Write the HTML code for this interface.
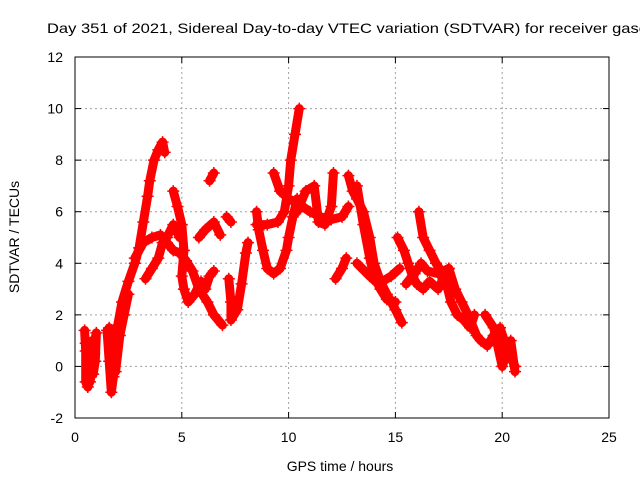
<!DOCTYPE html>
<html><head><meta charset="utf-8"><style>
body{margin:0;background:#fff;overflow:hidden}
svg{display:block;font-family:"Liberation Sans",sans-serif}
</style></head><body>
<svg id="chart" width="640" height="480" viewBox="0 0 640 480">
<rect width="640" height="480" fill="#fff"/>
<text x="47" y="33" font-size="14" textLength="600" lengthAdjust="spacingAndGlyphs" fill="#000">Day 351 of 2021, Sidereal Day-to-day VTEC variation (SDTVAR) for receiver gasc</text>
<g id="grid"></g><g id="axes"></g><g id="marks"></g>
<text x="340" y="471" font-size="14" text-anchor="middle">GPS time / hours</text>
<text transform="translate(19,237) rotate(-90)" font-size="14" text-anchor="middle">SDTVAR / TECUs</text>
</svg>
<script>
const xTicks=[0,5,10,15,20,25];
const yTicks=[-2,0,2,4,6,8,10,12];
const trackA=[[0.45,1.4],[0.5,0.6],[0.5,-0.6],[0.6,-0.8],[0.75,-0.4],[0.8,0.3],[0.9,0.9],[1.0,1.3],[0.95,0.2],[0.85,-0.3]];
const trackA2=[[0.5,0.9],[0.65,0.2],[0.7,-0.6],[0.9,0.5],[0.8,1.0]];
const trackB=[[1.5,1.4],[1.6,0.2],[1.7,-1.0],[1.8,-0.4],[1.9,0.6],[2.0,1.6],[2.2,2.5],[2.5,3.3],[2.8,4.0],[3.0,4.6],[3.2,5.6],[3.4,6.6],[3.5,7.2],[3.7,8.0],[3.9,8.4],[4.1,8.7],[4.2,8.3]];
const trackB2=[[1.6,1.5],[1.8,0.8],[1.9,-0.2],[2.1,1.2],[2.3,2.0],[2.5,2.8]];
const trackC=[[2.8,4.2],[3.2,4.8],[3.6,5.0],[4.0,5.1],[4.3,4.8],[4.6,4.5],[4.9,4.4],[5.2,4.1],[5.5,3.7],[5.8,3.0],[6.2,2.5],[6.5,2.0],[6.9,1.6]];
const trackD=[[3.3,3.4],[3.6,3.8],[3.9,4.2],[4.1,4.8],[4.3,5.0],[4.6,5.5],[4.9,5.0]];
const trackE=[[4.6,6.8],[4.8,6.2],[5.0,5.5],[5.1,4.5],[5.0,3.5],[5.1,3.0],[5.3,2.5],[5.6,2.8],[5.9,3.3],[6.1,3.0],[6.3,3.5],[6.5,3.7]];
const trackF=[[5.8,5.0],[6.1,5.3],[6.5,5.6],[6.8,5.1]];
const trackG=[[6.3,7.2],[6.5,7.5]];
const trackH=[[7.1,5.8],[7.3,5.6]];
const trackI=[[7.2,3.4],[7.3,2.5],[7.3,1.8],[7.6,2.2],[7.8,3.2],[8.0,4.4],[8.1,4.8]];
const trackJ=[[8.5,6.0],[8.6,5.3],[8.8,4.5],[9.0,3.8],[9.3,3.6],[9.6,3.8],[9.9,4.5],[10.0,5.0],[10.2,5.8],[10.4,6.5]];
const trackK=[[8.5,5.5],[9.0,5.5],[9.5,5.6],[9.8,6.0],[10.0,7.0],[10.1,8.0],[10.3,9.0],[10.5,10.0]];
const trackL=[[9.3,7.5],[9.6,6.8],[10.0,6.5],[10.5,6.3],[11.0,6.0],[11.5,5.8],[12.0,5.7],[12.5,5.8],[12.8,6.2]];
const trackM=[[10.4,6.0],[10.8,6.8],[11.2,7.0],[11.4,5.6],[11.7,5.5],[12.0,6.2],[12.1,7.5]];
const trackN=[[12.2,3.4],[12.5,3.8],[12.7,4.2]];
const trackO=[[12.8,7.4],[13.0,6.8],[13.2,6.5],[13.5,6.0],[13.8,5.0],[14.0,4.0],[14.3,3.3],[14.6,2.8],[15.0,2.2],[15.3,1.7]];
const trackP=[[13.2,7.0],[13.5,5.5],[13.8,4.2],[14.0,3.5],[14.3,3.0],[14.6,2.6],[15.0,2.5]];
const trackQ=[[13.2,4.0],[13.8,3.5],[14.2,3.2],[14.8,3.5],[15.2,3.8]];
const trackR=[[15.1,5.0],[15.4,4.5],[15.6,4.0],[15.8,3.5],[16.0,3.2],[16.3,3.0],[16.6,3.3],[17.0,3.0],[17.3,3.5]];
const trackS=[[16.1,6.0],[16.3,5.0],[16.6,4.5],[16.9,4.0],[17.3,3.5],[17.6,2.5],[17.9,2.0],[18.2,1.8],[18.5,1.5],[18.7,2.0]];
const trackT=[[15.5,3.2],[15.9,3.6],[16.2,4.0],[16.5,3.7],[17.0,3.6],[17.5,3.8]];
const trackU=[[17.5,3.8],[17.8,3.0],[18.1,2.5],[18.4,2.0],[18.8,1.2],[19.0,1.0],[19.3,0.8],[19.6,1.2],[19.9,1.5],[20.1,1.0],[20.3,0.5],[20.6,0.0]];
const trackV=[[19.2,2.0],[19.6,1.5],[20.0,0.0],[20.4,1.0],[20.6,-0.2]];
const tracks=[trackA,trackA2,trackB,trackB2,trackC,trackD,trackE,trackF,trackG,trackH,trackI,trackJ,trackK,trackL,trackM,trackN,trackO,trackP,trackQ,trackR,trackS,trackT,trackU,trackV];

const X0=75,X1=609,Y0=418,Y1=57;
const sx=t=>X0+(t-0)/(25-0)*(X1-X0);
const sy=v=>Y0-(v+2)/(12+2)*(Y0-Y1);
const NS='http://www.w3.org/2000/svg';
function mk(tag,attrs,parent){const e=document.createElementNS(NS,tag);for(const k in attrs)e.setAttribute(k,attrs[k]);parent.appendChild(e);return e;}
const grid=document.getElementById('grid'),axes=document.getElementById('axes'),marks=document.getElementById('marks');
xTicks.forEach(t=>{
  const x=sx(t);
  if(t>0&&t<25){const g=mk('line',{x1:x,x2:x,y1:Y1,y2:Y0,stroke:'#a0a0a0','stroke-dasharray':'2,3'},grid);
  
  }
  mk('line',{x1:x,x2:x,y1:Y0,y2:Y0-6,stroke:'#000'},axes);
  mk('line',{x1:x,x2:x,y1:Y1,y2:Y1+6,stroke:'#000'},axes);
  const l=mk('text',{x:x,y:Y0+24,'font-size':14,'text-anchor':'middle'},axes);
  l.textContent=t;
  
  
});
yTicks.forEach(v=>{
  const y=sy(v);
  if(v>-2&&v<12){const g=mk('line',{x1:X0,x2:X1,y1:y,y2:y,stroke:'#a0a0a0','stroke-dasharray':'2,3'},grid);
  
  }
  mk('line',{x1:X0,x2:X0+6,y1:y,y2:y,stroke:'#000'},axes);
  mk('line',{x1:X1,x2:X1-6,y1:y,y2:y,stroke:'#000'},axes);
  const l=mk('text',{x:X0-12,y:y+5,'font-size':14,'text-anchor':'end'},axes);
  l.textContent=v;
  
  
});
const frame=mk('rect',{x:X0,y:Y1,width:X1-X0,height:Y0-Y1,fill:'none',stroke:'#000'},axes);


tracks.forEach(tr=>{
  const pl=mk('polyline',{points:tr.map(p=>sx(p[0])+','+sy(p[1])).join(' '),fill:'none',stroke:'#ff0000','stroke-width':9,'stroke-linejoin':'round','stroke-linecap':'round'},marks);
  
  
  tr.forEach(p=>{
    const x=sx(p[0]),y=sy(p[1]);
    const m=mk('path',{d:`M${x-6},${y}H${x+6}M${x},${y-6}V${y+6}`,stroke:'#ff0000','stroke-width':1.5},marks);
    
    
  });
});
</script>
</body></html>
